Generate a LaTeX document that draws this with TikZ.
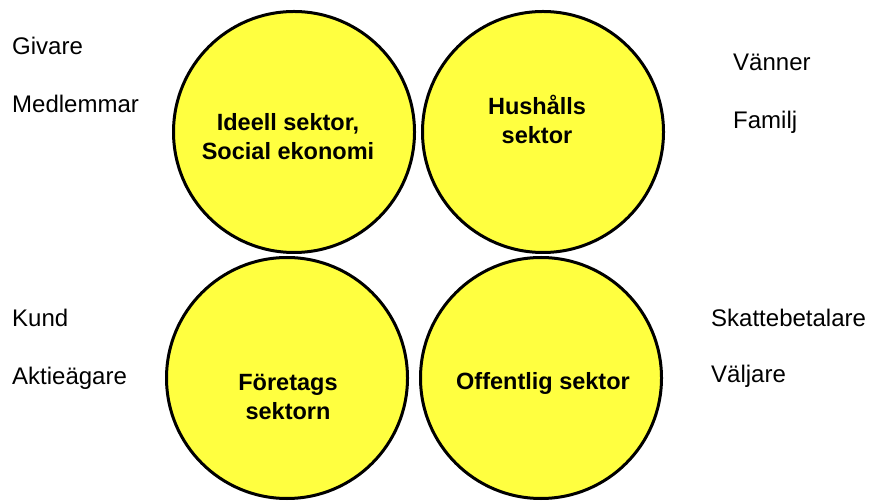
\documentclass[tikz,border=0pt]{standalone}
\usepackage{fontspec}
\setmainfont{Liberation Sans}
\usepackage{tikz}
\usetikzlibrary{positioning}

\definecolor{sectoryellow}{RGB}{255,255,64}

\begin{document}
\begin{tikzpicture}[x=1pt, y=1pt,
  sector/.style={circle, draw=black, line width=3pt, fill=sectoryellow, minimum size=241pt, inner sep=0pt},
  sectortext/.style={align=center, font=\fontsize{23.5}{29}\selectfont\bfseries},
  actor/.style={anchor=base west, inner sep=0pt, font=\fontsize{24}{28}\selectfont}]

  % Frame
  \useasboundingbox (0,0) rectangle (869,503);

  % Sectors
  \node[sector] (ideell)    at (294,371) {};
  \node[sector] (hushall)   at (543,371) {};
  \node[sector] (foretag)   at (287,125) {};
  \node[sector] (offentlig) at (541,125) {};

  % Sector names
  \node[sectortext] (ideelltxt)    at (288,366) {Ideell sektor,\\Social ekonomi};
  \node[sectortext] (hushalltxt)   at (537,384) {Hushålls\\sektor};
  \node[sectortext] (foretagtxt)   at (288,106) {Företags\\sektorn};
  \node[sectortext] (offentligtxt) at (543,120) {Offentlig sektor};

  % Actors around the sectors
  \foreach \x/\y/\name/\lbl in {12/448/givare/Givare, 12/390/medlem/Medlemmar,
      733/432/vanner/Vänner, 733/374/familj/Familj,
      12/176/kund/Kund, 12/118/aktie/Aktieägare,
      711/176/skatt/Skattebetalare, 711/120/valjare/Väljare} {
    \node[actor] (\name) at (\x,\y) {\lbl};
  }

\end{tikzpicture}
\end{document}
